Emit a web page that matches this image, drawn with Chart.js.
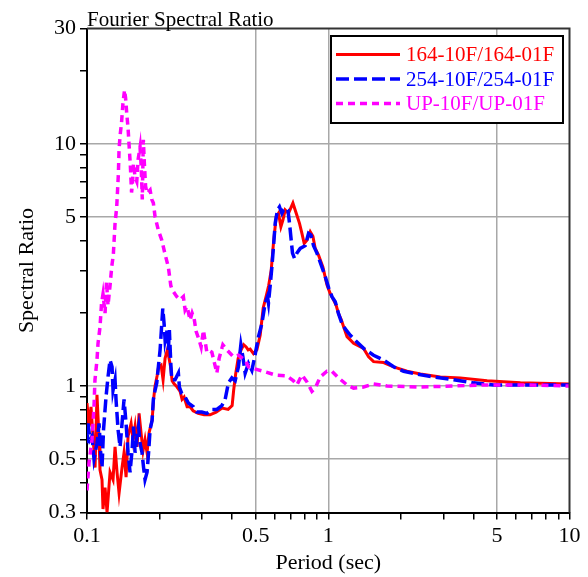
<!DOCTYPE html>
<html>
<head>
<meta charset="utf-8">
<script src="https://cdn.jsdelivr.net/npm/chart.js@4.4.0/dist/chart.umd.min.js"></script>
<style>
    html, body { margin: 0; padding: 0; background: #fff; }
</style>
</head>
<body>
<canvas id="grafico-razao" width="588" height="577"></canvas>
<script>
// razao espectral de Fourier

const seriesLabels = ["164-10F/164-01F", "254-10F/254-01F", "UP-10F/UP-01F"];

const redPeriod = [0.1000, 0.1019, 0.1039, 0.1059, 0.1080, 0.1100, 0.1122, 0.1132, 0.1154, 0.1165,
    0.1188, 0.1211, 0.1246, 0.1282, 0.1307, 0.1332, 0.1358, 0.1397, 0.1424, 0.1452,
    0.1480, 0.1523, 0.1552, 0.1582, 0.1612, 0.1644, 0.1675, 0.1707, 0.1740, 0.1774,
    0.1808, 0.1861, 0.1888, 0.1915, 0.1952, 0.1980, 0.2028, 0.2067, 0.2107, 0.2158,
    0.2189, 0.2221, 0.2253, 0.2296, 0.2363, 0.2432, 0.2478, 0.2526, 0.2600, 0.2675,
    0.2753, 0.2888, 0.3058, 0.3238, 0.3430, 0.3632, 0.3846, 0.3996, 0.4054, 0.4132,
    0.4232, 0.4355, 0.4460, 0.4568, 0.4656, 0.4746, 0.4898, 0.5060, 0.5222, 0.5374,
    0.5530, 0.5663, 0.5800, 0.5929, 0.6084, 0.6219, 0.6363, 0.6486, 0.6630, 0.6843,
    0.7137, 0.7366, 0.7601, 0.7778, 0.7950, 0.8158, 0.8419, 0.8639, 0.8831, 0.9115,
    0.9506, 0.9876, 1.019, 1.052, 1.079, 1.103, 1.132, 1.157, 1.196, 1.234,
    1.273, 1.401, 1.470, 1.541, 1.696, 1.866, 2.121, 2.408, 2.915, 3.529,
    4.555, 6.26, 10.0];
const redRatio = [0.85, 0.68, 0.82, 0.62, 0.46, 0.92, 0.60, 0.45, 0.41, 0.31,
    0.38, 0.30, 0.44, 0.41, 0.56, 0.44, 0.36, 0.46, 0.53, 0.42,
    0.62, 0.70, 0.60, 0.68, 0.56, 0.77, 0.64, 0.54, 0.60, 0.53,
    0.64, 0.72, 0.88, 1.00, 1.10, 1.20, 1.22, 1.06, 1.30, 1.42,
    1.30, 1.20, 1.05, 1.02, 0.99, 0.95, 0.88, 0.90, 0.82, 0.82,
    0.79, 0.77, 0.76, 0.76, 0.78, 0.81, 0.80, 0.83, 0.96, 1.12,
    1.30, 1.41, 1.48, 1.45, 1.41, 1.42, 1.36, 1.41, 1.62, 2.10,
    2.35, 2.60, 3.00, 3.90, 5.00, 5.17, 4.55, 4.85, 5.34, 5.17,
    5.70, 5.17, 4.70, 4.27, 3.88, 4.00, 4.34, 4.15, 3.70, 3.47,
    3.10, 2.62, 2.41, 2.27, 2.15, 1.99, 1.88, 1.76, 1.60, 1.55,
    1.50, 1.43, 1.32, 1.26, 1.25, 1.20, 1.15, 1.12, 1.09, 1.08,
    1.05, 1.03, 1.02];

const bluePeriod = [0.1000, 0.1010, 0.1029, 0.1049, 0.1069, 0.1100, 0.1122, 0.1138, 0.1154, 0.1171,
    0.1199, 0.1222, 0.1246, 0.1270, 0.1282, 0.1307, 0.1319, 0.1345, 0.1371, 0.1397,
    0.1424, 0.1452, 0.1480, 0.1508, 0.1537, 0.1559, 0.1582, 0.1612, 0.1636, 0.1659,
    0.1691, 0.1716, 0.1740, 0.1774, 0.1800, 0.1826, 0.1861, 0.1884, 0.1915, 0.1946,
    0.1976, 0.2009, 0.2042, 0.2061, 0.2087, 0.2107, 0.2141, 0.2174, 0.2195, 0.2225,
    0.2246, 0.2318, 0.2392, 0.2415, 0.2471, 0.2551, 0.2632, 0.2761, 0.2852, 0.2992,
    0.3138, 0.3292, 0.3453, 0.3622, 0.3738, 0.3857, 0.3985, 0.4112, 0.4244, 0.4343,
    0.4427, 0.4525, 0.4670, 0.4824, 0.4979, 0.5138, 0.5307, 0.5477, 0.5599, 0.5652,
    0.5745, 0.5839, 0.5929, 0.6027, 0.6160, 0.6279, 0.6425, 0.6523, 0.6675, 0.6804,
    0.6909, 0.7022, 0.7109, 0.7246, 0.7416, 0.7652, 0.8027, 0.8284, 0.8476, 0.8690,
    0.8976, 0.9415, 0.9718, 1.003, 1.036, 1.069, 1.103, 1.140, 1.176, 1.234,
    1.315, 1.401, 1.541, 1.696, 1.866, 2.053, 2.333, 2.735, 3.310, 4.007,
    4.852, 6.26, 10.0];
const blueRatio = [0.58, 0.70, 0.60, 0.62, 0.50, 0.58, 0.70, 0.54, 0.46, 0.66,
    0.90, 1.09, 1.28, 1.20, 0.96, 1.06, 0.88, 0.66, 0.56, 0.70,
    0.88, 0.70, 0.53, 0.44, 0.54, 0.68, 0.53, 0.62, 0.68, 0.58,
    0.53, 0.46, 0.41, 0.44, 0.53, 0.66, 0.72, 0.88, 0.96, 1.03,
    1.20, 1.41, 1.81, 2.09, 1.81, 1.55, 1.70, 1.41, 1.70, 1.24,
    1.06, 1.06, 1.13, 0.99, 0.93, 0.90, 0.85, 0.82, 0.78, 0.78,
    0.77, 0.80, 0.80, 0.83, 0.88, 1.03, 1.08, 1.05, 1.20, 1.48,
    1.32, 1.13, 1.24, 1.16, 1.35, 1.60, 1.81, 2.20, 2.34, 2.20,
    2.60, 3.10, 3.76, 4.70, 5.34, 5.50, 5.17, 5.34, 5.43, 5.34,
    4.70, 4.00, 3.54, 3.37, 3.54, 3.70, 3.80, 4.27, 4.20, 3.80,
    3.54, 3.10, 2.83, 2.55, 2.34, 2.23, 1.99, 1.81, 1.72, 1.62,
    1.52, 1.43, 1.34, 1.28, 1.20, 1.15, 1.12, 1.09, 1.06, 1.03,
    1.01, 1.01, 1.01];

const upPeriod = [0.1000, 0.1019, 0.1049, 0.1069, 0.1079, 0.1100, 0.1111, 0.1132, 0.1149, 0.1165,
    0.1188, 0.1205, 0.1222, 0.1246, 0.1266, 0.1286, 0.1307, 0.1328, 0.1349, 0.1358,
    0.1371, 0.1390, 0.1410, 0.1431, 0.1445, 0.1461, 0.1480, 0.1498, 0.1512, 0.1530,
    0.1545, 0.1559, 0.1582, 0.1608, 0.1628, 0.1659, 0.1678, 0.1695, 0.1712, 0.1729,
    0.1749, 0.1774, 0.1826, 0.1856, 0.1884, 0.1915, 0.1976, 0.2042, 0.2107, 0.2174,
    0.2225, 0.2253, 0.2356, 0.2432, 0.2509, 0.2551, 0.2600, 0.2675, 0.2727, 0.2780,
    0.2833, 0.2915, 0.2972, 0.3038, 0.3138, 0.3208, 0.3292, 0.3365, 0.3453, 0.3529,
    0.3657, 0.3799, 0.4046, 0.4244, 0.4525, 0.4670, 0.4898, 0.5389, 0.6027, 0.6739,
    0.7178, 0.7416, 0.7778, 0.8158, 0.8557, 0.8831, 0.9264, 0.9876, 1.036, 1.103,
    1.196, 1.273, 1.401, 1.541, 1.752, 2.408, 3.31, 4.555, 6.26, 10.0];
const upRatio = [0.37, 0.48, 0.60, 0.82, 1.06, 1.28, 1.50, 1.75, 2.20, 2.40,
    2.00, 2.70, 2.15, 2.60, 3.10, 3.50, 4.70, 5.50, 7.50, 9.50,
    10.8, 12.2, 14.8, 16.7, 15.5, 13.4, 11.6, 9.5, 8.2, 6.3,
    7.0, 8.3, 7.3, 7.0, 8.6, 9.7, 8.0, 5.9, 10.4, 8.3,
    6.7, 6.25, 6.45, 5.9, 5.7, 5.0, 4.4, 4.0, 3.5, 3.1,
    2.6, 2.5, 2.34, 2.27, 2.34, 2.06, 2.13, 1.87, 2.00, 1.90,
    1.68, 1.55, 1.45, 1.70, 1.38, 1.40, 1.38, 1.26, 1.13, 1.30,
    1.48, 1.41, 1.32, 1.34, 1.28, 1.20, 1.18, 1.15, 1.11, 1.10,
    1.05, 1.01, 1.11, 1.04, 0.95, 0.98, 1.09, 1.15, 1.15, 1.08,
    1.01, 0.98, 0.99, 1.02, 1.00, 0.99, 1.00, 1.01, 1.01, 1.00];

// marcas dos eixos
const xTicks = [0.1, 0.2, 0.3, 0.4, 0.5, 0.6, 0.7, 0.8, 0.9, 1, 2, 3, 4, 5, 6, 7, 8, 9, 10];
const xLabeled = [0.1, 0.5, 1, 5, 10];
const xGrid = [0.5, 1, 5];
const yTicks = [0.3, 0.4, 0.5, 0.6, 0.7, 0.8, 0.9, 1, 2, 3, 4, 5, 6, 7, 8, 9, 10, 20, 30];
const yLabeled = [0.3, 0.5, 1, 5, 10, 30];
const yGrid = [0.5, 1, 5, 10];

const SERIF = "'Liberation Serif', 'Times New Roman', serif";

function pontos(periodos, razoes) {
    return periodos.map((p, i) => ({ x: p, y: razoes[i] }));
}

// moldura, titulo e legenda dentro da area do grafico
const extras = {
    id: "extras",
    afterDatasetsDraw(chart) {
        const { ctx, chartArea: a } = chart;
        ctx.save();
        ctx.strokeStyle = "#333";
        ctx.lineWidth = 2;
        ctx.beginPath();
        ctx.moveTo(a.left, a.top);
        ctx.lineTo(a.right, a.top);
        ctx.lineTo(a.right, a.bottom);
        ctx.stroke();
        ctx.restore();
    },
    afterDraw(chart) {
        const ctx = chart.ctx;
        ctx.save();
        ctx.fillStyle = "#000";
        ctx.font = "21px " + SERIF;
        ctx.textAlign = "left";
        ctx.textBaseline = "alphabetic";
        ctx.fillText("Fourier Spectral Ratio", 87, 26);

        // caixa da legenda
        ctx.fillStyle = "#fff";
        ctx.fillRect(331, 36, 232, 87);
        ctx.strokeStyle = "#000";
        ctx.lineWidth = 2;
        ctx.strokeRect(331, 36, 232, 87);

        const linhas = [54.5, 79, 103.5];
        chart.data.datasets.forEach((ds, i) => {
            const y = linhas[i];
            ctx.strokeStyle = ds.borderColor;
            ctx.lineWidth = ds.borderWidth;
            ctx.setLineDash(ds.borderDash || []);
            ctx.beginPath();
            ctx.moveTo(336, y);
            ctx.lineTo(400, y);
            ctx.stroke();
            ctx.setLineDash([]);
            ctx.fillStyle = ds.borderColor;
            ctx.font = "21px " + SERIF;
            ctx.textBaseline = "middle";
            ctx.fillText(ds.label, 406, y + 1);
        });
        ctx.restore();
    }
};

function eixo(ticks, labeled, grid, min, max, titulo) {
    return {
        type: "logarithmic",
        min: min,
        max: max,
        afterBuildTicks: s => { s.ticks = ticks.map(v => ({ value: v })); },
        ticks: {
            autoSkip: false,
            maxRotation: 0,
            minRotation: 0,
            padding: 4,
            color: "#000",
            font: { family: SERIF, size: 22 },
            callback: v => labeled.includes(v) ? String(v) : ""
        },
        grid: {
            color: c => grid.includes(c.tick.value) ? "#a8a8a8" : "rgba(0,0,0,0)",
            lineWidth: 1.5,
            tickColor: "#000",
            tickWidth: 1.5,
            tickLength: 7
        },
        border: { color: "#000", width: 2 },
        title: {
            display: true,
            text: titulo,
            color: "#000",
            font: { family: SERIF, size: 22 }
        }
    };
}

const xScale = eixo(xTicks, xLabeled, xGrid, 0.1, 10, "Period (sec)");
xScale.afterFit = s => { s.height = 64.5; };
xScale.title.padding = { top: 0, bottom: 1 };

const yScale = eixo(yTicks, yLabeled, yGrid, 0.3, 30, "Spectral Ratio");
yScale.afterFit = s => { s.width = 87; };
yScale.title.padding = { top: 14, bottom: 0 };

new Chart(document.getElementById("grafico-razao"), {
    type: "line",
    data: {
        datasets: [
            {
                label: seriesLabels[0],
                data: pontos(redPeriod, redRatio),
                borderColor: "#ff0000",
                borderWidth: 3,
                order: 3
            },
            {
                label: seriesLabels[1],
                data: pontos(bluePeriod, blueRatio),
                borderColor: "#0000ff",
                borderWidth: 3.5,
                borderDash: [13, 5],
                order: 2
            },
            {
                label: seriesLabels[2],
                data: pontos(upPeriod, upRatio),
                borderColor: "#ff00ff",
                borderWidth: 3.5,
                borderDash: [7, 5],
                order: 1
            }
        ]
    },
    options: {
        responsive: false,
        animation: false,
        parsing: true,
        elements: {
            point: { radius: 0 },
            line: { tension: 0, fill: false }
        },
        layout: {
            padding: { top: 28.5, right: 18.5, left: 0, bottom: 0 },
            autoPadding: false
        },
        scales: { x: xScale, y: yScale },
        plugins: {
            legend: { display: false },
            tooltip: { enabled: false }
        }
    },
    plugins: [extras]
});
</script>
</body>
</html>
